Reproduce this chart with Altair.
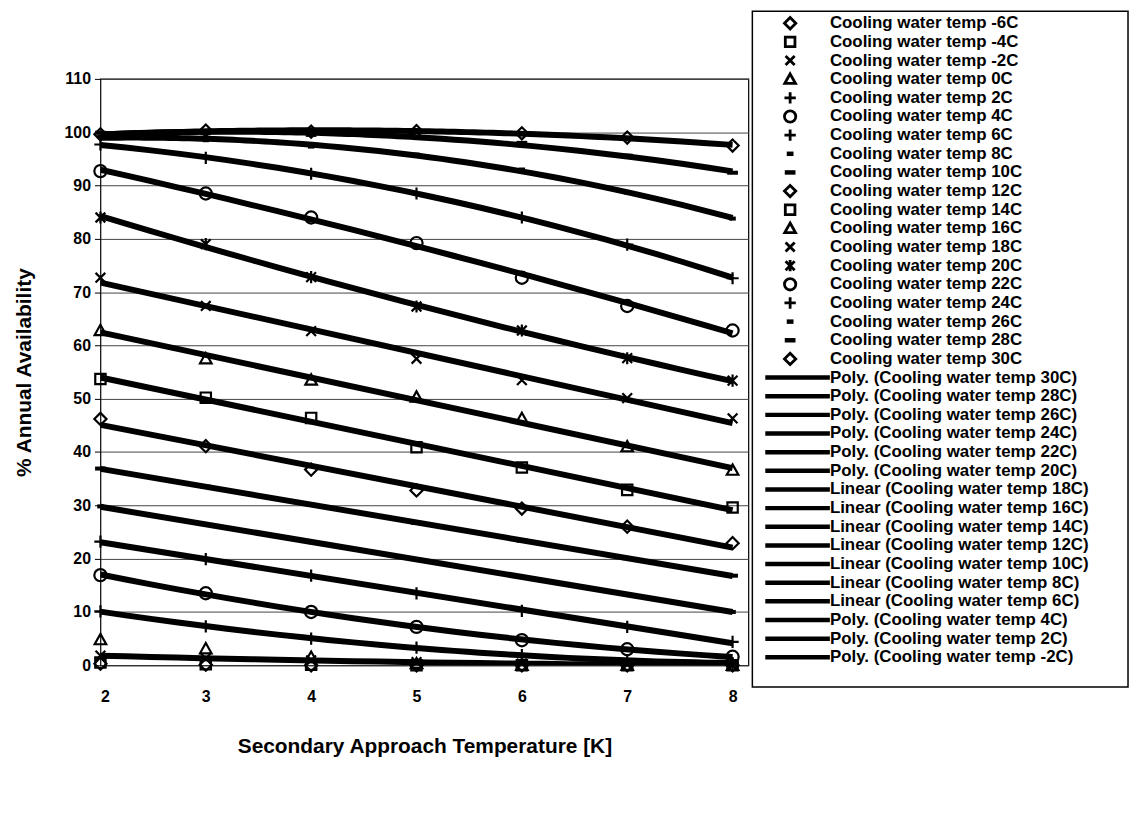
import altair as alt
import pandas as pd

# ---------------- data ----------------
x_vals = [2, 3, 4, 5, 6, 7, 8]

temps = ["-6C", "-4C", "-2C", "0C", "2C", "4C", "6C", "8C", "10C", "12C",
         "14C", "16C", "18C", "20C", "22C", "24C", "26C", "28C", "30C"]

v_m6 = [0.3, 0.1, 0.0, 0.0, 0.0, 0.0, 0.0]
v_m4 = [0.5, 0.2, 0.1, 0.0, 0.0, 0.0, 0.0]
v_m2 = [1.8, 1.3, 0.9, 0.6, 0.3, 0.1, 0.0]
v_0 = [4.8, 3.1, 1.5, 0.3, 0.0, 0.0, 0.0]
v_2 = [10.1, 7.3, 5.0, 3.3, 1.9, 0.9, 0.4]
v_4 = [16.9, 13.5, 10.0, 7.2, 4.7, 3.0, 1.6]
v_6 = [23.2, 19.9, 16.8, 13.5, 10.2, 7.2, 4.4]
v_8 = [29.8, 26.4, 23.1, 19.8, 16.6, 13.3, 10.0]
v_10 = [36.9, 33.5, 30.1, 26.7, 23.4, 20.1, 16.8]
v_12 = [46.2, 41.1, 36.7, 32.8, 29.4, 26.0, 22.9]
v_14 = [53.7, 50.2, 46.4, 40.9, 37.1, 32.9, 29.6]
v_16 = [62.8, 57.5, 53.5, 50.3, 46.3, 41.0, 36.6]
v_18 = [72.7, 67.4, 62.7, 57.5, 53.5, 50.1, 46.3]
v_20 = [84.0, 79.0, 72.8, 67.3, 62.8, 57.6, 53.4]
v_22 = [92.7, 88.5, 84.0, 79.2, 72.7, 67.4, 62.8]
v_24 = [97.7, 95.2, 92.2, 88.5, 84.0, 78.9, 72.6]
v_26 = [99.2, 98.5, 97.3, 95.8, 93.0, 88.7, 83.8]
v_28 = [99.9, 99.8, 99.5, 99.1, 98.0, 95.6, 92.4]
v_30 = [99.6, 100.3, 100.1, 100.2, 99.8, 99.0, 97.5]

all_values = [v_m6, v_m4, v_m2, v_0, v_2, v_4, v_6, v_8, v_10, v_12,
              v_14, v_16, v_18, v_20, v_22, v_24, v_26, v_28, v_30]

# trendline kinds, in legend order
poly_a = ["30C", "28C", "26C", "24C", "22C", "20C"]
linear_t = ["18C", "16C", "14C", "12C", "10C", "8C", "6C"]
poly_b = ["4C", "2C", "-2C"]

y_ticks = [0, 10, 20, 30, 40, 50, 60, 70, 80, 90, 100, 110]

# ---------------- marker shapes ----------------
P_DIAMOND = "diamond"
P_SQUARE = "M-0.85,-0.85L0.85,-0.85L0.85,0.85L-0.85,0.85Z"
P_X = "M-0.8,-0.8L0.8,0.8M-0.8,0.8L0.8,-0.8"
P_TRI = "M0,-0.95L0.95,0.75L-0.95,0.75Z"
P_PLUS = "M-1,0L1,0M0,-1L0,1"
P_CIRCLE = "circle"
P_STAR = "M-0.8,-0.8L0.8,0.8M-0.8,0.8L0.8,-0.8M0,-1L0,1"
P_SDASH = "M-0.35,-0.15L0.35,-0.15L0.35,0.15L-0.35,0.15Z"
P_LDASH = "M-0.7,-0.15L0.7,-0.15L0.7,0.15L-0.7,0.15Z"

shapes = [P_DIAMOND, P_SQUARE, P_X, P_TRI, P_PLUS, P_CIRCLE, P_PLUS, P_SDASH,
          P_LDASH, P_DIAMOND, P_SQUARE, P_TRI, P_X, P_STAR, P_CIRCLE, P_PLUS,
          P_SDASH, P_LDASH, P_DIAMOND]

series_labels = ["Cooling water temp " + t for t in temps]

rows = []
for lab, vals in zip(series_labels, all_values):
    for xv, yv in zip(x_vals, vals):
        rows.append({"series": lab, "xk": float(xv), "yv": float(yv)})
df = pd.DataFrame(rows)

poly_series = ["Cooling water temp " + t for t in poly_a + poly_b]
linear_series = ["Cooling water temp " + t for t in linear_t]

trend_labels = ([f"Poly. (Cooling water temp {t})" for t in poly_a]
                + [f"Linear (Cooling water temp {t})" for t in linear_t]
                + [f"Poly. (Cooling water temp {t})" for t in poly_b])

leg_rows = []
for i, lab in enumerate(series_labels):
    leg_rows.append({"idx": i, "label": lab, "series": lab, "kind": "marker"})
for j, lab in enumerate(trend_labels):
    leg_rows.append({"idx": len(series_labels) + j, "label": lab,
                     "series": "none", "kind": "line"})
leg = pd.DataFrame(leg_rows)
n_leg = len(leg_rows)

FONT = "Liberation Sans"
W, H = 652, 590

x_scale = alt.Scale(domain=[2, 8.15], nice=False, zero=False)
y_scale = alt.Scale(domain=[0, 110], nice=False, zero=False)

x_axis = alt.Axis(values=x_vals, format="d", title="Secondary Approach Temperature [K]",
                  grid=False, ticks=False, domain=False, labelPadding=23,
                  titlePadding=32, labelFontSize=16, titleFontSize=21,
                  labelFontWeight="bold", titleFontWeight="bold",
                  labelFont=FONT, titleFont=FONT, labelColor="black",
                  titleColor="black")
y_axis = alt.Axis(values=y_ticks, title="% Annual Availability", grid=True,
                  gridColor="#444444", gridWidth=1, tickSize=6, tickColor="black",
                  domain=False, labelPadding=4, titlePadding=30, labelFontSize=16,
                  titleFontSize=21, labelFontWeight="bold", titleFontWeight="bold",
                  labelFont=FONT, titleFont=FONT, labelColor="black",
                  titleColor="black")

shape_enc = alt.Shape("series:N", scale=alt.Scale(domain=series_labels, range=shapes),
                      legend=None)

markers = alt.Chart(df).mark_point(filled=False, color="black", strokeWidth=2.2,
                                    size=150, opacity=1).encode(
    x=alt.X("xk:Q", scale=x_scale, axis=x_axis),
    y=alt.Y("yv:Q", scale=y_scale, axis=y_axis),
    shape=shape_enc,
)

poly_lines = alt.Chart(df).transform_filter(
    alt.FieldOneOfPredicate(field="series", oneOf=poly_series)
).transform_regression(
    "xk", "yv", groupby=["series"], method="poly", order=2, extent=[2, 8]
).mark_line(color="black", strokeWidth=6, clip=True).encode(
    x=alt.X("xk:Q"),
    y=alt.Y("yv:Q", scale=y_scale, axis=None),
    detail="series:N",
)

lin_lines = alt.Chart(df).transform_filter(
    alt.FieldOneOfPredicate(field="series", oneOf=linear_series)
).transform_regression(
    "xk", "yv", groupby=["series"], method="linear", extent=[2, 8]
).mark_line(color="black", strokeWidth=6, clip=True).encode(
    x=alt.X("xk:Q"),
    y=alt.Y("yv:Q", scale=y_scale, axis=None),
    detail="series:N",
)

# ---------------- legend (drawn with its own y scale) ----------------
leg_scale = alt.Scale(domain=[0, n_leg - 1], range=[-56, 582], nice=False, zero=False)

leg_box = alt.Chart(pd.DataFrame({"a": [0]})).mark_rect(
    fill="white", stroke="black", strokeWidth=1.5
).encode(
    x=alt.value(656), x2=alt.value(1034),
    y=alt.value(-68), y2=alt.value(612),
)

leg_pts = alt.Chart(leg).transform_filter(alt.datum.kind == "marker").mark_point(
    filled=False, color="black", strokeWidth=2.8, size=130, opacity=1
).encode(
    x=alt.value(694),
    y=alt.Y("idx:Q", scale=leg_scale, axis=None),
    shape=shape_enc,
)

leg_rules = alt.Chart(leg).transform_filter(alt.datum.kind == "line").mark_rule(
    color="black", strokeWidth=4.5
).encode(
    x=alt.value(669), x2=alt.value(734),
    y=alt.Y("idx:Q", scale=leg_scale, axis=None),
)

leg_text = alt.Chart(leg).mark_text(
    align="left", baseline="middle", font=FONT, fontWeight="bold", fontSize=17,
    color="black"
).encode(
    x=alt.value(734),
    y=alt.Y("idx:Q", scale=leg_scale, axis=None),
    text="label:N",
)

chart = alt.layer(
    markers, poly_lines, lin_lines, leg_box, leg_pts, leg_rules, leg_text
).resolve_scale(y="independent").properties(
    width=W, height=H,
    padding={"left": 5, "top": 0, "right": 2, "bottom": 2},
    background="white",
).configure_view(stroke="black", strokeWidth=1.2)

chart.save("out.html", embed_options={"renderer": "svg", "actions": False})
